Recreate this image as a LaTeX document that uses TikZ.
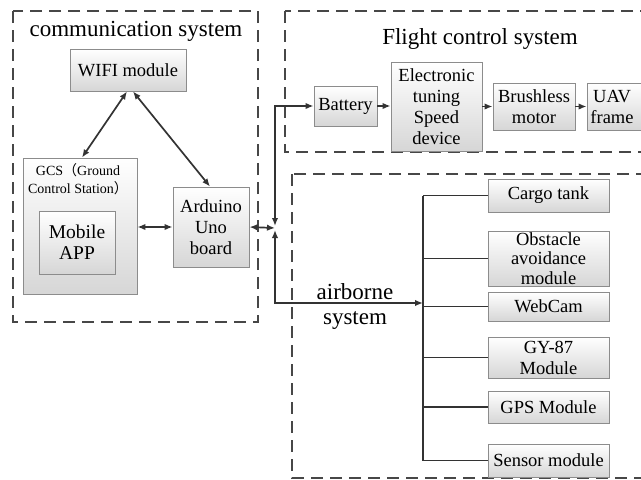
\documentclass[tikz,border=0pt]{standalone}
\usepackage{fontspec}
\setmainfont{Liberation Serif}
\newfontfamily\cjk{Noto Sans CJK SC}
\usetikzlibrary{arrows.meta,shadows,calc}

\begin{document}
\begin{tikzpicture}[x=1pt,y=-1pt,
  frame/.style={draw=black!72, line width=1.5pt, dash pattern=on 12pt off 7pt},
  box/.style={draw=black!45, line width=0.9pt, top color=white, bottom color=black!16,
    inner sep=0pt, align=center, font=\fontsize{18.5}{21}\selectfont,
    drop shadow={shadow xshift=1.2pt, shadow yshift=-1.2pt, fill=black!30, opacity=0.5}},
  link/.style={draw=black!80, line width=1.7pt},
  tipA/.tip={Latex[length=8pt,width=6.5pt]},
  arr/.style={link, -tipA},
  biarr/.style={link, tipA-tipA},
  title/.style={font=\fontsize{23}{25}\selectfont, inner sep=0pt, align=center},
  boxtext/.style={font=\fontsize{18.5}{21}\selectfont, inner sep=0pt, align=center}
]
\useasboundingbox (0,0) rectangle (641,480);
\clip (0,0) rectangle (641,480);

% subsystem frames
\draw[frame] (13,11) rectangle (258,322);
\draw[frame] (285,11) rectangle (660,152);
\draw[frame] (292,174) rectangle (660,478);

\node[title] (tcomm) at (136,31) {communication system};
\node[title] (tflight) at (480,39) {Flight control system};
\node[title] (tair) at (355,306) {airborne\\system};

% communication system
\node[box, minimum width=116, minimum height=42] (wifi) at (128,70) {WIFI module};
\node[box, minimum width=114, minimum height=136] (gcs) at (80,226) {};
\node[font=\fontsize{14}{18}\selectfont, align=center, inner sep=0pt] (gcstxt) at (78,179)
  {GCS{\cjk （}Ground\\Control Station{\cjk ）}};
\node[box, minimum width=76, minimum height=63, font=\fontsize{19.5}{21}\selectfont] (app) at (77,242.5) {Mobile\\APP};
\node[box, minimum width=76, minimum height=80] (ard) at (211,227) {Arduino\\Uno\\board};

% flight control system
\node[box, minimum width=63, minimum height=40] (bat) at (345.5,106) {Battery};
\node[box, minimum width=91, minimum height=89] (esc) at (436.5,106.5) {Electronic\\tuning\\Speed\\device};
\node[box, minimum width=82, minimum height=47] (motor) at (534,106.5) {Brushless\\motor};
\node[box, minimum width=63, minimum height=47] (uav) at (618.5,106.5) {};
\node[boxtext] (uavtxt) at (612,106.5) {UAV\\frame};

% airborne system
\node[box, minimum width=121, minimum height=33] (cargo) at (548.5,195.5) {Cargo tank};
\node[box, minimum width=121, minimum height=55, font=\fontsize{18.5}{19.5}\selectfont] (obst) at (548.5,258.5) {Obstacle\\avoidance\\module};
\node[box, minimum width=121, minimum height=29] (cam) at (548.5,306.5) {WebCam};
\node[box, minimum width=121, minimum height=41] (gy) at (548.5,357.5) {GY-87\\Module};
\node[box, minimum width=121, minimum height=32] (gps) at (548.5,407) {GPS Module};
\node[box, minimum width=121, minimum height=33] (sensor) at (548.5,460.5) {Sensor module};

% junction points of the wiring
\coordinate (jn) at (275,228);
\coordinate (jup) at (275,226);
\coordinate (jdn) at (275,230);
\coordinate (busx) at (423,0);
\coordinate (busin) at (423,303);

% communication links
\draw[biarr] ([xshift=-1]wifi.south) -- ([xshift=2]gcs.north);
\draw[biarr] ([xshift=5]wifi.south) -- ([xshift=-1]ard.north);
\draw[biarr] (gcs.east |- ard.west) -- (ard.west);
\draw[biarr] (ard.east) -- (jn);

% to flight control and airborne systems
\draw[biarr] (jup) -- (jup |- bat.west) -- (bat.west);
\draw[biarr] (jdn) -- (jdn |- busin) -- (busin);

% power chain
\draw[arr] (bat.east) -- (esc.west |- bat.east);
\draw[arr] (esc.east |- motor.west) -- (motor.west);
\draw[arr] (motor.east) -- (uav.west);

% airborne bus
\draw[link] (cargo.west -| busx) -- (sensor.west -| busx);
\foreach \b in {cargo,obst,cam,gy,gps,sensor}
  \draw[link] (\b.west -| busx) -- (\b.west);
\end{tikzpicture}
\end{document}
